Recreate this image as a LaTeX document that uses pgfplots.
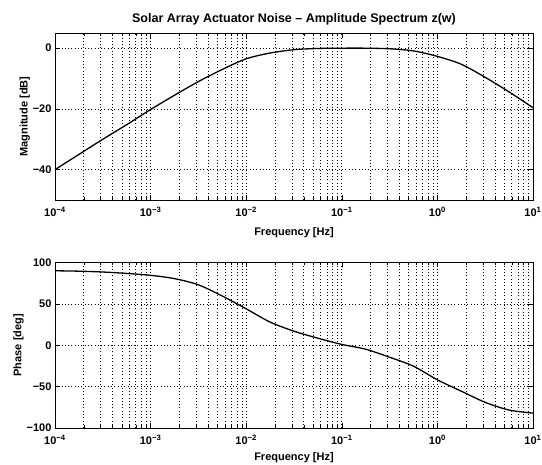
\documentclass[border=0pt]{standalone}
\usepackage{fontspec}
\setmainfont{Liberation Sans}
\usepackage{pgfplots}
\pgfplotsset{compat=1.18}
\begin{document}
\begin{tikzpicture}[x=1pt,y=1pt]
\path[use as bounding box] (-55,-37) rectangle (487,428);
\begin{axis}[at={(0,228pt)}, anchor=south west,
    scale only axis, width=478pt, height=167pt,
    xmode=log, xmin=1e-4, xmax=10,
    grid=both,
    major grid style={black, line width=0.6pt, dash pattern=on 0.7pt off 2.6pt},
    minor grid style={black, line width=0.6pt, dash pattern=on 0.7pt off 2.6pt},
    tick align=inside,
    major tick length=5pt, minor tick length=3pt,
    every tick/.style={black, line width=0.5pt},
    axis line style={black, line width=0.9pt},
    xtick={1e-4,1e-3,1e-2,1e-1,1,10},
    xticklabels={10\textsuperscript{−4},10\textsuperscript{−3},10\textsuperscript{−2},10\textsuperscript{−1},10\textsuperscript{0},10\textsuperscript{1}},
    tick label style={font=\bfseries\fontsize{11}{13}\selectfont},
    xticklabel style={yshift=-4pt},
    label style={font=\bfseries\fontsize{11}{13}\selectfont},
    xlabel={Frequency [Hz]},
    xlabel style={yshift=-4pt},
  ymin=-50, ymax=5, ytick={-40,-20,0}, yticklabels={−40,−20,0},
  ylabel={Magnitude [dB]}, ylabel style={yshift=-4pt},
  title={Solar Array Actuator Noise – Amplitude Spectrum z(w)},
  title style={font=\bfseries\fontsize{12.5}{14}\selectfont, yshift=-2pt}]
\addplot[black, line width=1.3pt, smooth, tension=0.5] coordinates {
(1e-4,-40) (1.778e-4,-35) (3.162e-4,-30) (5.623e-4,-25.2) (1e-3,-20.2)
(1.778e-3,-15.5) (3.162e-3,-11) (5.623e-3,-7) (1e-2,-3.5) (1.778e-2,-1.6)
(3.162e-2,-0.5) (5.623e-2,-0.1) (0.1,0) (0.1778,0) (0.3162,-0.2) (0.5623,-0.9)
(1,-2.7) (1.778,-5.3) (3.162,-9.6) (5.623,-14.4) (10,-19.6)};
\end{axis}
\begin{axis}[at={(0,0)}, anchor=south west,
    scale only axis, width=478pt, height=165.5pt,
    xmode=log, xmin=1e-4, xmax=10,
    grid=both,
    major grid style={black, line width=0.6pt, dash pattern=on 0.7pt off 2.6pt},
    minor grid style={black, line width=0.6pt, dash pattern=on 0.7pt off 2.6pt},
    tick align=inside,
    major tick length=5pt, minor tick length=3pt,
    every tick/.style={black, line width=0.5pt},
    axis line style={black, line width=0.9pt},
    xtick={1e-4,1e-3,1e-2,1e-1,1,10},
    xticklabels={10\textsuperscript{−4},10\textsuperscript{−3},10\textsuperscript{−2},10\textsuperscript{−1},10\textsuperscript{0},10\textsuperscript{1}},
    tick label style={font=\bfseries\fontsize{11}{13}\selectfont},
    xticklabel style={yshift=-4pt},
    label style={font=\bfseries\fontsize{11}{13}\selectfont},
    xlabel={Frequency [Hz]},
    xlabel style={yshift=-1pt},
  ymin=-100, ymax=100, ytick={-100,-50,0,50,100}, yticklabels={−100,−50,0,50,100},
  ylabel={Phase [deg]}, ylabel style={yshift=-4pt}]
\addplot[black, line width=1.3pt, smooth, tension=0.5] coordinates {
(1e-4,90) (1.778e-4,89.5) (3.162e-4,88.5) (5.623e-4,86.8) (1e-3,84.5)
(1.778e-3,80.5) (3.162e-3,73) (5.623e-3,59.5) (1e-2,44) (1.778e-2,28)
(3.162e-2,17) (5.623e-2,8.5) (0.1,1) (0.1778,-4.8) (0.3162,-14.5)
(0.5623,-25.3) (1,-41.8) (1.778,-55.5) (3.162,-69) (5.623,-78.3) (10,-82)};
\end{axis}
\end{tikzpicture}
\end{document}
